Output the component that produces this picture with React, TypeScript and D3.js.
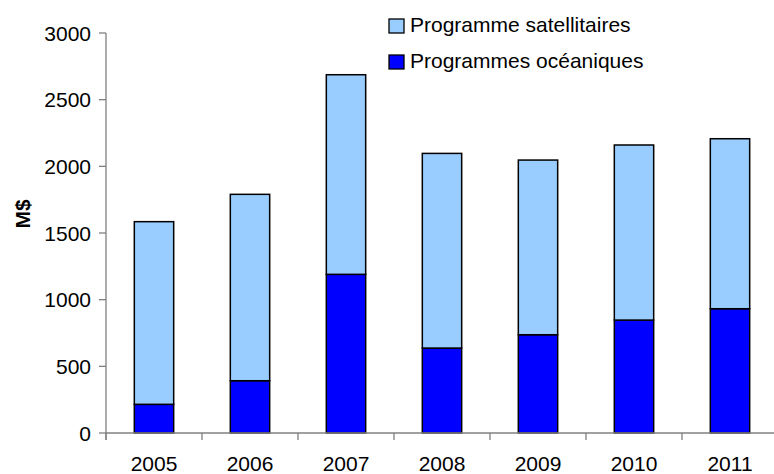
import React from "react";
import * as d3 from "d3";

const years = ["2005", "2006", "2007", "2008", "2009", "2010", "2011"];
const oceaniques = [215, 392, 1190, 637, 737, 847, 932];
const totals = [1585, 1790, 2687, 2097, 2047, 2160, 2207];
const satellitaires = totals.map((t, i) => t - oceaniques[i]);
const yTicks = [0, 500, 1000, 1500, 2000, 2500, 3000];
const seriesNames = ["Programme satellitaires", "Programmes océaniques"];
const seriesColors = ["#99CCFF", "#0000FF"];

const W = 774;
const H = 474;
const left = 106;
const right = 778;
const top = 33;
const bottom = 433;
const FONT = "Arial, 'Liberation Sans', sans-serif";

export default function App() {
  const x = d3.scaleBand<string>().domain(years).range([left, right]).paddingInner(0.59).paddingOuter(0.295);
  const xCat = d3.scaleBand<string>().domain(years).range([left, right]).padding(0);
  const y = d3.scaleLinear().domain([0, 3000]).range([bottom, top]);

  const stackData = years.map((yr, i) => ({ year: yr, oce: oceaniques[i], sat: satellitaires[i] }));
  const stack = d3.stack<any>().keys(["oce", "sat"])(stackData);
  const keyColor: Record<string, string> = { oce: seriesColors[1], sat: seriesColors[0] };

  const boundaries = [...years.map((yr) => xCat(yr) as number), right];

  return (
    <svg width={W} height={H} style={{ position: "absolute", left: 0, top: 0, display: "block" }}>
      <rect x={0} y={0} width={W} height={H} fill="#fff" />
      {stack.map((layer) =>
        layer.map((d, i) => (
          <rect
            key={layer.key + i}
            x={x(years[i])}
            y={y(d[1])}
            width={x.bandwidth()}
            height={y(d[0]) - y(d[1])}
            fill={keyColor[layer.key]}
            stroke="#000"
            strokeWidth={1.5}
          />
        ))
      )}
      {/* y axis */}
      <line x1={left} x2={left} y1={top} y2={bottom + 7} stroke="#808080" strokeWidth={1.3} />
      {yTicks.map((t) => (
        <g key={t}>
          <line x1={left - 7} x2={left} y1={y(t)} y2={y(t)} stroke="#808080" strokeWidth={1.3} />
          <text x={left - 15} y={y(t)} dy="0.36em" textAnchor="end" fontFamily={FONT} fontSize={21} fill="#000">
            {t}
          </text>
        </g>
      ))}
      {/* x axis */}
      <line x1={left} x2={right} y1={bottom} y2={bottom} stroke="#808080" strokeWidth={1.3} />
      {boundaries.map((b, i) => (
        <line key={i} x1={b} x2={b} y1={bottom} y2={bottom + 7} stroke="#808080" strokeWidth={1.3} />
      ))}
      {years.map((yr) => (
        <text
          key={yr}
          x={(xCat(yr) as number) + xCat.bandwidth() / 2}
          y={471}
          textAnchor="middle"
          fontFamily={FONT}
          fontSize={21}
          fill="#000"
        >
          {yr}
        </text>
      ))}
      {/* y label */}
      <text
        transform={`translate(30,${(top + bottom) / 2 - 19}) rotate(-90)`}
        textAnchor="middle"
        fontFamily={FONT}
        fontSize={21}
        fontWeight="bold"
        fill="#000"
      >
        M$
      </text>
      {/* legend */}
      {seriesNames.map((name, i) => (
        <g key={name} transform={`translate(389,${19 + i * 36})`}>
          <rect x={0} y={0} width={15} height={14} fill={seriesColors[i]} stroke="#000" strokeWidth={1.3} />
          <text x={21} y={13} fontFamily={FONT} fontSize={21} fill="#000">
            {name}
          </text>
        </g>
      ))}
    </svg>
  );
}
